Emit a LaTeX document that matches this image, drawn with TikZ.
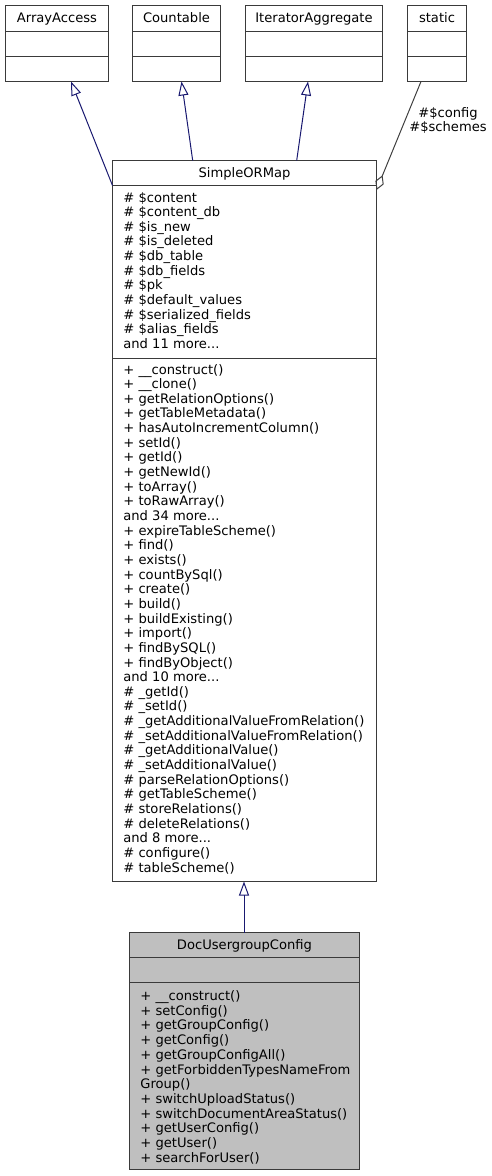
\documentclass[tikz,border=0pt]{standalone}
\usepackage{fontspec}
\setmainfont{DejaVu Sans}
\usetikzlibrary{arrows.meta,calc}
\definecolor{edgeblue}{HTML}{191970}
\definecolor{boxline}{HTML}{3A3A3A}
\definecolor{edgegray}{HTML}{404040}
\definecolor{curfill}{HTML}{BFBFBF}
\newcommand{\tdots}{...}
\begin{document}
\begin{tikzpicture}[x=1pt,y=-1pt,
  cls/.style={draw=boxline, line width=1pt, inner sep=0pt, outer sep=0pt, anchor=north west},
  sepline/.style={draw=boxline, line width=1pt},
  ttl/.style={anchor=base, inner sep=0pt, font=\fontsize{13.1}{14.65}\selectfont},
  mem/.style={anchor=base west, inner sep=0pt, font=\fontsize{13.1}{14.65}\selectfont},
  inh/.style={draw=edgeblue, line width=1pt, -{Triangle[open, length=14pt, width=10pt, line width=1pt]}},
  agg/.style={draw=edgegray, line width=1pt, -{Diamond[open, length=16pt, width=9pt, line width=1pt]}}]
\useasboundingbox (0,0) rectangle (491,1176);

% ---- top interface boxes ----
\node[cls, fill=white, minimum width=103pt, minimum height=76pt] (aa) at (5.5,5.5) {};
\node[cls, fill=white, minimum width=88pt, minimum height=76pt] (cnt) at (132.5,5.5) {};
\node[cls, fill=white, minimum width=137pt, minimum height=76pt] (ia) at (245.5,5.5) {};
\node[cls, fill=white, minimum width=59pt, minimum height=76pt] (st) at (407.5,5.5) {};
\foreach \b in {aa,cnt,ia,st}{
  \draw[sepline] ($(\b.north west)+(0,26)$) -- ($(\b.north east)+(0,26)$);
  \draw[sepline] ($(\b.north west)+(0,51)$) -- ($(\b.north east)+(0,51)$);
}
\node[ttl] (aat) at ($(aa.north)+(0,16.5)$) {ArrayAccess};
\node[ttl] (cntt) at ($(cnt.north)+(0,16.5)$) {Countable};
\node[ttl] (iat) at ($(ia.north)+(0,16.5)$) {IteratorAggregate};
\node[ttl] (stt) at ($(st.north)+(0,16.5)$) {static};

% ---- SimpleORMap ----
\node[cls, fill=white, minimum width=264pt, minimum height=721pt] (sorm) at (112.5,160.5) {};
\draw[sepline] ($(sorm.north west)+(0,25)$) -- ($(sorm.north east)+(0,25)$);
\draw[sepline] ($(sorm.north west)+(0,198)$) -- ($(sorm.north east)+(0,198)$);
\node[ttl] (sormt) at ($(sorm.north)+(0,17)$) {SimpleORMap};
\foreach \t [count=\i from 0] in {\# \$content,\# \$content\_db,\# \$is\_new,\# \$is\_deleted,\# \$db\_table,\# \$db\_fields,\# \$pk,\# \$default\_values,\# \$serialized\_fields,\# \$alias\_fields,and 11 more\tdots}
  \node[mem] (sa\i) at (123.2,{202+14.65*\i}) {\t};
\foreach \t [count=\i from 0] in {+ \_\_construct(),+ \_\_clone(),+ getRelationOptions(),+ getTableMetadata(),+ hasAutoIncrementColumn(),+ setId(),+ getId(),+ getNewId(),+ toArray(),+ toRawArray(),and 34 more\tdots,+ expireTableScheme(),+ find(),+ exists(),+ countBySql(),+ create(),+ build(),+ buildExisting(),+ import(),+ findBySQL(),+ findByObject(),and 10 more\tdots,\# \_getId(),\# \_setId(),\# \_getAdditionalValueFromRelation(),\# \_setAdditionalValueFromRelation(),\# \_getAdditionalValue(),\# \_setAdditionalValue(),\# parseRelationOptions(),\# getTableScheme(),\# storeRelations(),\# deleteRelations(),and 8 more\tdots,\# configure(),\# tableScheme()}
  \node[mem] (sm\i) at (123.2,{374+14.65*\i}) {\t};

% ---- DocUsergroupConfig ----
\node[cls, fill=curfill, minimum width=230pt, minimum height=237pt] (duc) at (129.5,932.5) {};
\draw[sepline] ($(duc.north west)+(0,25)$) -- ($(duc.north east)+(0,25)$);
\draw[sepline] ($(duc.north west)+(0,50)$) -- ($(duc.north east)+(0,50)$);
\node[ttl] (ductt) at ($(duc.north)+(0,17)$) {DocUsergroupConfig};
\foreach \t [count=\i from 0] in {+ \_\_construct(),+ setConfig(),+ getGroupConfig(),+ getConfig(),+ getGroupConfigAll(),+ getForbiddenTypesNameFrom,Group(),+ switchUploadStatus(),+ switchDocumentAreaStatus(),+ getUserConfig(),+ getUser(),+ searchForUser()}
  \node[mem] (dm\i) at (140.2,{1000.5+14.7*\i}) {\t};

% ---- connectors ----
\coordinate (e1s) at (112.5,185.5);
\coordinate (e1t) at (71,81.5);
\coordinate (e2s) at (192.7,160.5);
\coordinate (e2t) at (181.5,81.5);
\coordinate (e3s) at (296.7,160.5);
\coordinate (e3t) at (308,81.5);
\coordinate (e4s) at (421,81.5);
\coordinate (e4t) at (376.5,190);
\coordinate (e5s) at (244,932.5);
\coordinate (e5t) at (244,881.5);
\draw[inh] (e1s) -- (e1t);
\draw[inh] (e2s) -- (e2t);
\draw[inh] (e3s) -- (e3t);
\draw[agg] (e4s) -- (e4t);
\draw[inh] (e5s) -- (e5t);
\node[align=center, inner sep=0pt, font=\fontsize{13.1}{14}\selectfont] (lbl) at (448,120) {\#\$config\\\#\$schemes};
\end{tikzpicture}
\end{document}
